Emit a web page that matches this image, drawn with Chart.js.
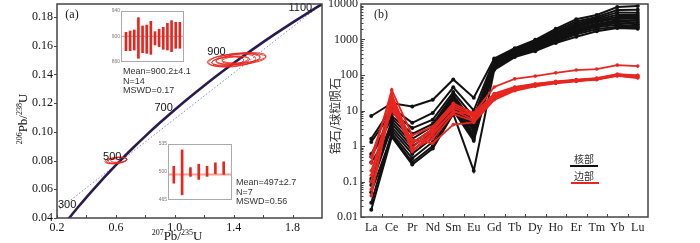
<!DOCTYPE html>
<html><head><meta charset="utf-8">
<script src="https://cdn.jsdelivr.net/npm/chart.js@4.4.1/dist/chart.umd.min.js"></script>
<style>
html,body{margin:0;padding:0;background:#fff;}
#wrap{position:relative;width:700px;height:243px;overflow:hidden;background:#fff;}
#wrap canvas{position:absolute;}
</style></head><body>
<div id="wrap">
<canvas id="ca" width="340" height="243" style="left:0;top:0"></canvas>
<canvas id="cb" width="400" height="243" style="left:300px;top:0"></canvas>
<canvas id="i1" width="85" height="62" style="left:105px;top:5px"></canvas>
<canvas id="i2" width="90" height="68" style="left:150px;top:138px"></canvas>
</div>
<script>
// ---------------- (a) concordia data ----------------
const concordiaAges   = [250, 300, 350, 400, 450, 500, 550, 600, 650, 700, 750, 800, 850, 900, 950, 1000, 1050, 1100, 1120];
const concordia207_235 = [0.2792, 0.3437, 0.4116, 0.4828, 0.5577, 0.6363, 0.7189, 0.8056, 0.8968, 0.9925, 1.0931, 1.1987, 1.3097, 1.4263, 1.5488, 1.6774, 1.8126, 1.9545, 2.0133];
const concordia206_238 = [0.03954, 0.04764, 0.05580, 0.06402, 0.07230, 0.08065, 0.08907, 0.09754, 0.10609, 0.11470, 0.12338, 0.13213, 0.14094, 0.14983, 0.15878, 0.16780, 0.17690, 0.18606, 0.18975];
const ageLabels = [300, 500, 700, 900, 1100];
const refLineX = [0.2, 2.0];
const refLineY = [0.045, 0.189];
const ell900X  = [1.40, 1.45, 1.38, 1.43, 1.36, 1.47, 1.41, 1.39];
const ell900Y  = [0.1500, 0.1505, 0.1495, 0.1510, 0.1490, 0.1515, 0.1500, 0.1497];
const ell900Rx = [0.18, 0.17, 0.13, 0.15, 0.11, 0.15, 0.09, 0.16];
const ell900Ry = [0.0042, 0.0036, 0.0030, 0.0038, 0.0030, 0.0034, 0.0024, 0.0044];
const ell500X  = [0.60, 0.62, 0.58, 0.61];
const ell500Y  = [0.0800, 0.0805, 0.0796, 0.0802];
const ell500Rx = [0.075, 0.055, 0.045, 0.065];
const ell500Ry = [0.0022, 0.0017, 0.0015, 0.0020];
const concXTicks = [0.2, 0.6, 1.0, 1.4, 1.8];
const concYTicks = [0.04, 0.06, 0.08, 0.10, 0.12, 0.14, 0.16, 0.18];
// insets (weighted mean plots)
const inset1Low  = [877.8, 877.8, 878.8, 865.8, 874.6, 873.6, 872.0, 886.7, 884.0, 879.9, 878.8, 876.2, 881.5, 881.5];
const inset1High = [906.6, 908.6, 910.2, 929.5, 916.5, 918.0, 923.8, 907.6, 911.3, 914.4, 920.7, 924.8, 922.3, 922.3];
const inset1Mean = 900.2;
const inset1Ticks = [860, 900, 940];
const inset1Stats = ['Mean=900.2±4.1', 'N=14', 'MSWD=0.17'];
const inset2Low  = [486.0, 471.6, 494.5, 490.7, 494.5, 497.8, 497.0];
const inset2High = [507.2, 527.6, 505.5, 509.8, 507.2, 511.5, 512.7];
const inset2Mean = 497;
const inset2Ticks = [465, 500, 535];
const inset2Stats = ['Mean=497±2.7', 'N=7', 'MSWD=0.56'];

// ---------------- (b) REE data ----------------
const REE = ['La','Ce','Pr','Nd','Sm','Eu','Gd','Tb','Dy','Ho','Er','Tm','Yb','Lu'];
const core1  = [7,     16,  13,   20,   75, 23,  290, 570, 980, 2000, 3700, 4900, 8200, 8800];
const core2  = [1.6,   12,  4.5,  8.5,  45, 10,  270, 530, 920, 1800, 3200, 4300, 6800, 6900];
const core3  = [1.3,   9,   3.2,  5.5,  33, 6.5, 250, 500, 870, 1600, 2900, 3900, 5800, 5700];
const core4  = [0.6,   7,   2.2,  4.2,  28, 4.5, 235, 470, 820, 1450, 2600, 3600, 5000, 4900];
const core5  = [0.5,   6,   1.6,  3.6,  25, 3.6, 220, 450, 780, 1350, 2400, 3300, 4400, 4300];
const core6  = [0.12,  5,   1.2,  3.0,  22, 3.0, 205, 430, 730, 1250, 2200, 3100, 3900, 3800];
const core7  = [0.1,   4.2, 0.95, 2.6,  20, 2.6, 195, 410, 680, 1150, 2000, 2800, 3500, 3400];
const core8  = [0.08,  3.4, 0.75, 2.1,  17, 2.1, 185, 390, 630, 1050, 1850, 2600, 3200, 3000];
const core9  = [0.35,  2.8, 0.6,  1.7,  15, 1.8, 175, 370, 590, 980,  1700, 2400, 2900, 2700];
const core10 = [0.025, 2.3, 0.45, 1.3,  12, 1.6, 165, 350, 550, 920,  1550, 2200, 2600, 2400];
const core11 = [0.05,  2.0, 0.35, 1.0,  10, 1.4, 155, 335, 510, 860,  1400, 1950, 2300, 2200];
const core12 = [0.016, 1.8, 0.3,  0.85, 8,  0.2, 140, 320, 470, 800,  1200, 1700, 2100, 2000];
const rim1 = [0.33, 38, 2.0,  3.5, 16, 8.5, 46, 78, 93, 115, 138, 147, 190, 178];
const rim2 = [0.15, 24, 0.9,  2.8, 12, 6.5, 28, 45, 56, 66,  74,  82,  105, 98];
const rim3 = [0.04, 18, 0.75, 2.0, 10, 5.5, 25, 42, 53, 63,  72,  78,  100, 90];
const rim4 = [0.5,  28, 1.2,  3.0, 14, 7.5, 24, 40, 52, 62,  70,  76,  98,  88];
const rim5 = [0.06, 14, 0.8,  1.6, 8,  5.0, 22, 38, 50, 60,  68,  75,  96,  85];
const rim6 = [0.2,  10, 1.5,  1.2, 4,  4.6, 20, 36, 48, 58,  66,  74,  94,  82];
const rim7 = [0.1,  20, 0.7,  2.4, 9,  8.0, 30, 46, 56, 64,  72,  80,  104, 96];
const coreSeries = [core1, core2, core3, core4, core5, core6, core7, core8, core9, core10, core11, core12];
const rimSeries = [rim1, rim2, rim3, rim4, rim5, rim6, rim7];
const reeYTicks = [0.01, 0.1, 1, 10, 100, 1000, 10000];
const legendNames = ['核部', '边部'];

// ---------------- helpers ----------------
const RED = '#e8261f';
const SERIF = '"Liberation Serif", "Times New Roman", serif';
const SANS = '"Liberation Sans", Arial, sans-serif';
const CJK = '"Noto Sans CJK SC", sans-serif';

function drawRich(ctx, parts, x, y, rot) {
  ctx.save();
  ctx.translate(x, y);
  if (rot) ctx.rotate(-Math.PI / 2);
  const big = '13px ' + SERIF, small = '8px ' + SERIF;
  let w = 0;
  parts.forEach(p => { ctx.font = p[1] ? small : big; w += ctx.measureText(p[0]).width; });
  let cx = -w / 2;
  ctx.textAlign = 'left'; ctx.textBaseline = 'alphabetic'; ctx.fillStyle = '#111';
  parts.forEach(p => { ctx.font = p[1] ? small : big; ctx.fillText(p[0], cx, p[1] ? 0 : 4.5); cx += ctx.measureText(p[0]).width; });
  ctx.restore();
}
function noPad(s) { s.paddingTop = 0; s.paddingBottom = 0; s.paddingLeft = 0; s.paddingRight = 0; }

// ---------------- chart (a) ----------------
const ageLabelOffsets = {300: [-11, -2], 500: [-9, -3], 700: [-10, -3], 900: [-21, -8], 1100: [-15, 0]};
const leftPlugin = {
  id: 'leftDeco',
  afterDatasetsDraw(chart) {
    const {ctx, chartArea: a, scales: {x, y}} = chart;
    ctx.save();
    ctx.beginPath(); ctx.rect(a.left, a.top, a.right - a.left, a.bottom - a.top); ctx.clip();
    ctx.strokeStyle = RED; ctx.lineWidth = 0.9;
    const ell = (xs, ys, rxs, rys, ang) => xs.forEach((cx, i) => {
      const px = x.getPixelForValue(cx), py = y.getPixelForValue(ys[i]);
      const rx = Math.abs(x.getPixelForValue(cx + rxs[i]) - px);
      const ry = Math.abs(y.getPixelForValue(ys[i] + rys[i]) - py);
      ctx.beginPath(); ctx.ellipse(px, py, rx, ry, ang, 0, Math.PI * 2); ctx.stroke();
    });
    ell(ell900X, ell900Y, ell900Rx, ell900Ry, -0.09);
    ell(ell500X, ell500Y, ell500Rx, ell500Ry, -0.1);
    ctx.restore();
    ctx.save();
    ctx.font = '11px ' + SANS; ctx.fillStyle = '#111'; ctx.textAlign = 'center'; ctx.textBaseline = 'middle';
    ageLabels.forEach(age => {
      const i = concordiaAges.indexOf(age);
      const px = x.getPixelForValue(concordia207_235[i]), py = y.getPixelForValue(concordia206_238[i]);
      const o = ageLabelOffsets[age];
      ctx.fillText(String(age), px + o[0], py + o[1]);
    });
    ctx.restore();
  },
  afterDraw(chart) {
    const {ctx, chartArea: a, scales: {x, y}} = chart;
    ctx.save();
    ctx.strokeStyle = '#444'; ctx.lineWidth = 1.5;
    ctx.strokeRect(a.left, a.top, a.right - a.left, a.bottom - a.top);
    ctx.lineWidth = 1;
    for (let i = 1; i <= 9; i++) {
      const px = Math.round(x.getPixelForValue(0.2 * i)) + 0.5;
      ctx.beginPath(); ctx.moveTo(px, a.bottom); ctx.lineTo(px, a.bottom - 3); ctx.stroke();
    }
    concYTicks.forEach(v => {
      const py = Math.round(y.getPixelForValue(v)) + 0.5;
      ctx.beginPath(); ctx.moveTo(a.left - 3, py); ctx.lineTo(a.left, py); ctx.stroke();
    });
    drawRich(ctx, [['206', 1], ['Pb/', 0], ['238', 1], ['U', 0]], 22, 119, true);
    drawRich(ctx, [['207', 1], ['Pb/', 0], ['235', 1], ['U', 0]], 177, 235, false);
    ctx.font = '12px ' + SERIF; ctx.fillStyle = '#111'; ctx.textAlign = 'center'; ctx.textBaseline = 'middle';
    ctx.fillText('(a)', 72, 15);
    ctx.font = '9px ' + SANS; ctx.fillStyle = '#333'; ctx.textAlign = 'left';
    inset1Stats.forEach((t, i) => ctx.fillText(t, 123, 72 + i * 9.5));
    inset2Stats.forEach((t, i) => ctx.fillText(t, 236, 183 + i * 9.2));
    ctx.restore();
  }
};

new Chart(document.getElementById('ca'), {
  type: 'scatter',
  data: { datasets: [
    { data: concordiaAges.map((a, i) => ({x: concordia207_235[i], y: concordia206_238[i]})), showLine: true,
      borderColor: '#2a1b4e', borderWidth: 2.6, pointRadius: 0, tension: 0.3 },
    { data: refLineX.map((v, i) => ({x: v, y: refLineY[i]})), showLine: true,
      borderColor: '#8087d8', borderWidth: 1, borderDash: [1.5, 2], pointRadius: 0 }
  ]},
  options: {
    responsive: false, animation: false, devicePixelRatio: 1,
    layout: { padding: { left: 0, top: 4, right: 18, bottom: 0 } },
    plugins: { legend: { display: false }, tooltip: { enabled: false } },
    scales: {
      x: { type: 'linear', min: 0.2, max: 2.0,
        afterBuildTicks: s => { s.ticks = concXTicks.map(v => ({value: v})); },
        afterFit: s => { s.height = 25; noPad(s); },
        grid: { display: false, drawTicks: false }, border: { display: false },
        ticks: { font: { family: SERIF, size: 12 }, color: '#111', padding: 3, maxRotation: 0, autoSkip: false,
          callback: v => Number(v).toFixed(1) } },
      y: { type: 'linear', min: 0.04, max: 0.189,
        afterBuildTicks: s => { s.ticks = concYTicks.map(v => ({value: v})); },
        afterFit: s => { s.width = 57; noPad(s); },
        grid: { display: false, drawTicks: false }, border: { display: false },
        ticks: { font: { family: SERIF, size: 12 }, color: '#111', padding: 4, autoSkip: false,
          callback: v => Number(v).toFixed(2) } }
    }
  },
  plugins: [leftPlugin]
});

// ---------------- insets ----------------
function inset(id, lows, highs, mean, ticks, xmin, xmax, yW, pad, meanW) {
  new Chart(document.getElementById(id), {
    type: 'bar',
    data: { datasets: [{ data: lows.map((l, i) => ({x: i + 1, y: [l, highs[i]]})), backgroundColor: RED, barThickness: 2, borderWidth: 0 }] },
    options: {
      responsive: false, animation: false, devicePixelRatio: 1,
      layout: { padding: pad },
      plugins: { legend: { display: false }, tooltip: { enabled: false } },
      scales: {
        x: { type: 'linear', display: false, min: xmin, max: xmax, offset: false },
        y: { min: ticks[0], max: ticks[ticks.length - 1],
          afterBuildTicks: s => { s.ticks = ticks.map(v => ({value: v})); },
          afterFit: s => { s.width = yW; noPad(s); },
          grid: { display: false, drawTicks: false }, border: { display: false },
          ticks: { font: { family: SANS, size: 5 }, color: '#777', padding: 1 } }
      }
    },
    plugins: [{
      id: 'insetDeco',
      beforeDatasetsDraw(chart) {
        const {ctx, chartArea: a, scales: {y}} = chart;
        ctx.save();
        ctx.fillStyle = '#fff'; ctx.fillRect(a.left, a.top, a.right - a.left, a.bottom - a.top);
        ctx.strokeStyle = '#f3a29a'; ctx.lineWidth = meanW;
        const py = y.getPixelForValue(mean);
        ctx.beginPath(); ctx.moveTo(a.left, py); ctx.lineTo(a.right, py); ctx.stroke();
        ctx.restore();
      },
      afterDraw(chart) {
        const {ctx, chartArea: a} = chart;
        ctx.save(); ctx.strokeStyle = '#aaa'; ctx.lineWidth = 1;
        ctx.strokeRect(a.left + 0.5, a.top + 0.5, a.right - a.left - 1, a.bottom - a.top - 1);
        ctx.restore();
      }
    }]
  });
}
inset('i1', inset1Low, inset1High, inset1Mean, inset1Ticks, -0.2, 15, 16, {left: 0, top: 6, right: 6, bottom: 5}, 1.2);
inset('i2', inset2Low, inset2High, inset2Mean, inset2Ticks, 0.3, 8, 18, {left: 0, top: 6, right: 8, bottom: 6}, 2);

// ---------------- chart (b) ----------------
const rightPlugin = {
  id: 'rightDeco',
  afterDraw(chart) {
    const {ctx, chartArea: a, scales: {x, y}} = chart;
    ctx.save();
    ctx.strokeStyle = '#444'; ctx.lineWidth = 1.5;
    ctx.strokeRect(a.left, a.top, a.right - a.left, a.bottom - a.top);
    ctx.lineWidth = 1;
    for (let e = -2; e < 4; e++) {
      for (let k = 1; k <= 9; k++) {
        const py = Math.round(y.getPixelForValue(k * Math.pow(10, e))) + 0.5;
        const len = k === 1 ? 4 : 2.5;
        ctx.beginPath(); ctx.moveTo(a.left, py); ctx.lineTo(a.left + len, py); ctx.stroke();
      }
    }
    for (let i = 1; i < REE.length; i++) {
      const px = Math.round((x.getPixelForValue(i - 1) + x.getPixelForValue(i)) / 2) + 0.5;
      ctx.beginPath(); ctx.moveTo(px, a.bottom); ctx.lineTo(px, a.bottom - 3); ctx.stroke();
    }
    ctx.fillStyle = '#222';
    ctx.font = '12px ' + SERIF; ctx.textAlign = 'center'; ctx.textBaseline = 'middle';
    ctx.fillText('(b)', 81, 15);
    ctx.save();
    ctx.translate(35, 116); ctx.rotate(-Math.PI / 2);
    ctx.font = '12px ' + CJK; ctx.fillStyle = '#333';
    ctx.fillText('锆石/球粒陨石', 0, 0);
    ctx.restore();
    ctx.font = '10px ' + CJK; ctx.fillStyle = '#333';
    ctx.fillText(legendNames[0], 284, 159);
    ctx.fillText(legendNames[1], 284, 176);
    ctx.lineWidth = 2;
    ctx.strokeStyle = '#111'; ctx.beginPath(); ctx.moveTo(270, 166); ctx.lineTo(298, 166); ctx.stroke();
    ctx.strokeStyle = RED; ctx.beginPath(); ctx.moveTo(271, 183); ctx.lineTo(299, 183); ctx.stroke();
    ctx.restore();
  }
};
const reeDatasets = [];
rimSeries.forEach(s => reeDatasets.push({ data: s, borderColor: RED, backgroundColor: RED, pointBackgroundColor: RED,
  pointBorderColor: RED, borderWidth: 1.8, pointRadius: 1.8, pointBorderWidth: 0 }));
coreSeries.forEach(s => reeDatasets.push({ data: s, borderColor: '#111', backgroundColor: '#111', pointBackgroundColor: '#111',
  pointBorderColor: '#111', borderWidth: 2, pointRadius: 2, pointBorderWidth: 0 }));

new Chart(document.getElementById('cb'), {
  type: 'line',
  data: { labels: REE, datasets: reeDatasets },
  options: {
    responsive: false, animation: false, devicePixelRatio: 1,
    layout: { padding: { left: 0, top: 4, right: 52, bottom: 0 } },
    plugins: { legend: { display: false }, tooltip: { enabled: false } },
    scales: {
      x: { type: 'category', offset: true,
        afterFit: s => { s.height = 26; noPad(s); },
        grid: { display: false, drawTicks: false }, border: { display: false },
        ticks: { font: { family: SERIF, size: 12 }, color: '#222', padding: 4, maxRotation: 0, autoSkip: false } },
      y: { type: 'logarithmic', min: 0.01, max: 10000,
        afterBuildTicks: s => { s.ticks = reeYTicks.map(v => ({value: v})); },
        afterFit: s => { s.width = 61; noPad(s); },
        grid: { display: false, drawTicks: false }, border: { display: false },
        ticks: { font: { family: SERIF, size: 12 }, color: '#222', padding: 3, autoSkip: false,
          callback: v => String(v) } }
    }
  },
  plugins: [rightPlugin]
});
</script>
</body></html>
